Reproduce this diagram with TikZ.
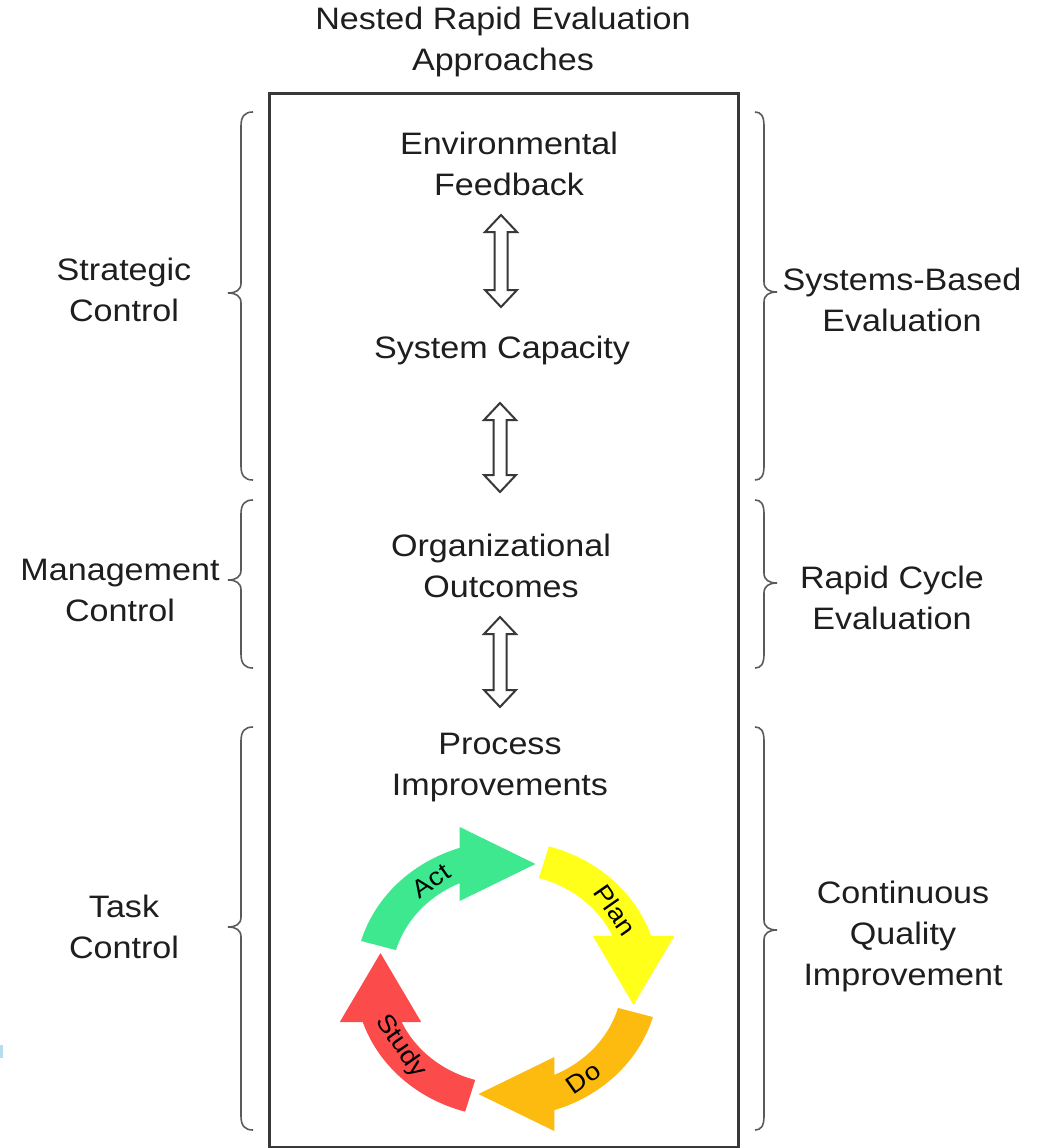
\documentclass[tikz,border=0pt]{standalone}
\usepackage{fontspec}
\setmainfont{Liberation Sans}[FakeStretch=1.1]
\definecolor{ink}{HTML}{1E1E1E}
\definecolor{boxline}{HTML}{383838}
\definecolor{braceline}{HTML}{5A5A5A}
\definecolor{actgreen}{HTML}{3DE88F}
\definecolor{planyellow}{HTML}{FFFF1A}
\definecolor{doorange}{HTML}{FDBA0F}
\definecolor{studyred}{HTML}{FB4B4B}
\definecolor{edgeblue}{HTML}{B5DDEB}

% one curved PDCA arrow, turned clockwise by #1 degrees
\newcommand\pdcaarrow[2]{%
  \fill[#2] plot[domain=164-#1:108.2-#1, samples=40] (\x:138)
    -- (105.8-#1:158) -- (77.3-#1:117.9) -- (118.9-#1:89.1)
    -- plot[domain=114.2-#1:164-#1, samples=40] (\x:105) -- cycle;}

% curly braces: left one opens to the right, right one to the left
\newcommand\leftbrace[3]{%
  \draw[bracestyle] (253,#1) .. controls (245,#1) and (241,#1+4) .. (241,#1+14)
    -- (241,#2-10) .. controls (241,#2-3) and (236,#2) .. (228,#2)
    .. controls (236,#2) and (241,#2+3) .. (241,#2+10)
    -- (241,#3-14) .. controls (241,#3-4) and (245,#3) .. (253,#3);}
\newcommand\rightbrace[3]{%
  \draw[bracestyle] (755,#1) .. controls (761,#1) and (764,#1+4) .. (764,#1+14)
    -- (764,#2-10) .. controls (764,#2-3) and (769,#2) .. (777,#2)
    .. controls (769,#2) and (764,#2+3) .. (764,#2+10)
    -- (764,#3-14) .. controls (764,#3-4) and (761,#3) .. (755,#3);}

\begin{document}
\begin{tikzpicture}[x=1pt,y=-1pt,
  lbl/.style={font=\fontsize{31}{41}\selectfont, text=ink, align=center, inner sep=0pt},
  cyc/.style={font=\fontsize{25}{28}\selectfont, text=black, inner sep=0pt},
  bracestyle/.style={draw=braceline, line width=1.6pt},
  hollow/.style={draw=boxline, line width=2pt, fill=white, line join=miter},
  dblarrow/.pic={\draw[hollow] (0,0) -- (16,17) -- (6.5,17) -- (6.5,#1-17)
      -- (16,#1-17) -- (0,#1) -- (-16,#1-17) -- (-6.5,#1-17) -- (-6.5,17)
      -- (-16,17) -- cycle;}]
\useasboundingbox (0,0) rectangle (1050,1148);
\fill[white] (0,0) rectangle (1050,1148);

% frame
\draw[boxline, line width=3pt] (269,93) rectangle (738,1147);
\fill[edgeblue] (0,1045) rectangle (2.5,1058);

% titles and levels
\node[lbl] (title) at (503,42) {Nested Rapid Evaluation\\Approaches};
\node[lbl] (env) at (509,164) {Environmental\\Feedback};
\node[lbl] (cap) at (502,350) {System Capacity};
\node[lbl] (org) at (501,566) {Organizational\\Outcomes};
\node[lbl] (proc) at (500,768) {Process\\Improvements};

\node[lbl] (strat) at (124,290) {Strategic\\Control};
\node[lbl] (mgmt) at (120,590) {Management\\Control};
\node[lbl] (task) at (124,927) {Task\\Control};

\node[lbl] (sys) at (902,300) {Systems-Based\\Evaluation};
\node[lbl] (rapid) at (892,598) {Rapid Cycle\\Evaluation};
\node[lbl] (cqi) at (903,936) {Continuous\\Quality\\Improvement};

% hollow two-way arrows between the levels
\pic at (501,215) {dblarrow=92};
\pic at (500,403) {dblarrow=89};
\pic at (500,617) {dblarrow=90};

% braces
\leftbrace{112}{293}{480}
\leftbrace{500}{580}{668}
\leftbrace{727}{927}{1130}
\rightbrace{112}{292}{480}
\rightbrace{500}{583}{668}
\rightbrace{727}{930}{1130}

% PDCA cycle
\begin{scope}[shift={(507,979)}, x=1.1pt, y=1pt]
  \pdcaarrow{90}{planyellow}
  \pdcaarrow{180}{doorange}
  \pdcaarrow{270}{studyred}
  \pdcaarrow{0}{actgreen}
  \node[cyc, rotate=35] (act) at (125:120) {Act};
  \node[cyc, rotate=-55] (plan) at (35:120) {Plan};
  \node[cyc, rotate=35] (do) at (-55:121) {Do};
  \node[cyc, rotate=-55] (study) at (-145:118) {Study};
\end{scope}
\end{tikzpicture}
\end{document}
